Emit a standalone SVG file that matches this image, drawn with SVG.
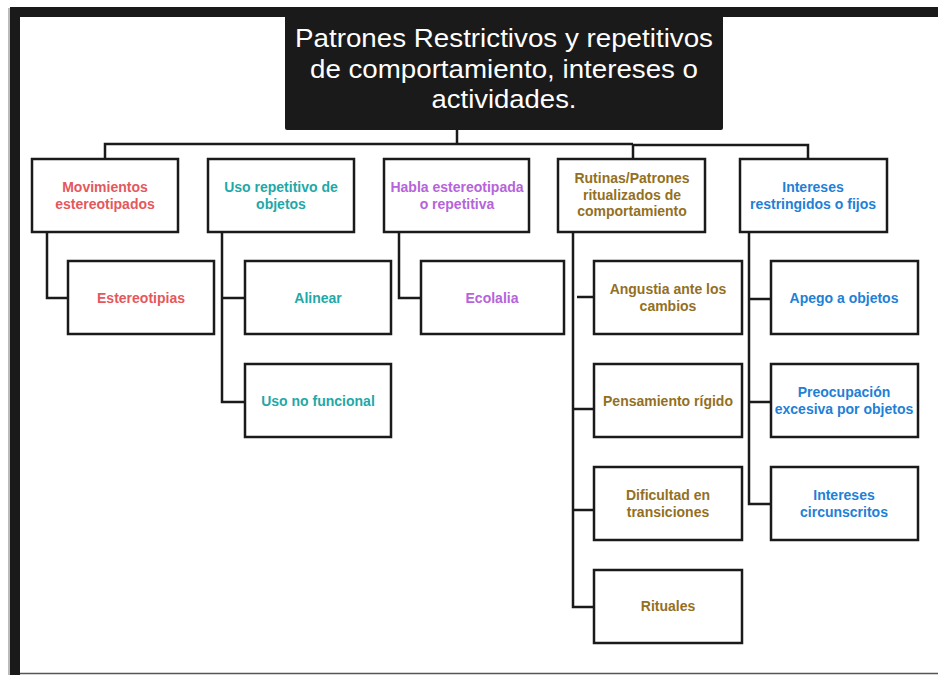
<svg xmlns="http://www.w3.org/2000/svg" width="938" height="675" viewBox="0 0 938 675">
  <style>
    .box { fill: #ffffff; stroke: #1a1a1a; stroke-width: 2.5; }
    .wire { fill: none; stroke: #1a1a1a; stroke-width: 2.5; }
    .lbl { font-family: "Liberation Sans", Arial, sans-serif; font-size: 14px; font-weight: bold; text-anchor: middle; }
    .red { fill: #e4585c; }
    .teal { fill: #1fa8a8; }
    .purple { fill: #b564da; }
    .gold { fill: #93701f; }
    .blue { fill: #1e80d6; }
    .title { font-family: "Liberation Sans", Arial, sans-serif; font-size: 26px; fill: #ffffff; text-anchor: middle; }
  </style>

  <!-- page background and frame -->
  <rect x="0" y="0" width="938" height="675" fill="#ffffff"/>
  <rect x="10" y="7" width="928" height="10" fill="#1a1a1a"/>
  <rect x="10" y="7" width="10" height="668" fill="#1a1a1a"/>
  <line x1="9" y1="8" x2="9" y2="675" stroke="#777" stroke-width="1"/>
  <line x1="20" y1="673.5" x2="938" y2="673.5" stroke="#555" stroke-width="1.5"/>

  <!-- root node -->
  <g id="root">
    <rect x="285" y="7" width="438" height="123" rx="2" fill="#1a1a1a"/>
    <text class="title" x="504" y="47" textLength="418" lengthAdjust="spacingAndGlyphs">Patrones Restrictivos y repetitivos</text>
    <text class="title" x="504" y="78" textLength="388" lengthAdjust="spacingAndGlyphs">de comportamiento, intereses o</text>
    <text class="title" x="504" y="108" textLength="145" lengthAdjust="spacingAndGlyphs">actividades.</text>
  </g>

  <!-- connectors -->
  <g id="connectors">
    <path class="wire" d="M457 130 V144"/>
    <path class="wire" stroke-width="1.8" d="M105 159 V144 H633"/>
    <path class="wire" d="M633 159 V145 H808 V159"/>
    <!-- Movimientos -->
    <path class="wire" d="M47 232 V298 H68"/>
    <!-- Uso repetitivo -->
    <path class="wire" d="M222 232 V402 H245 M222 298 H245"/>
    <!-- Habla -->
    <path class="wire" d="M399 232 V298 H421"/>
    <!-- Rutinas -->
    <path class="wire" d="M573 232 V607 H594 M577 297 H594 M573 409 H594 M573 510 H594"/>
    <!-- Intereses -->
    <path class="wire" d="M749 232 V504 H771 M749 299 H771 M749 402 H771"/>
  </g>

  <!-- first level -->
  <g id="movimientos">
    <rect class="box" x="32" y="159" width="146" height="73"/>
    <text class="lbl red" x="105" y="192">Movimientos</text>
    <text class="lbl red" x="105" y="209">estereotipados</text>
  </g>
  <g id="uso-repetitivo">
    <rect class="box" x="208" y="159" width="146" height="73"/>
    <text class="lbl teal" x="281" y="192">Uso repetitivo de</text>
    <text class="lbl teal" x="281" y="209">objetos</text>
  </g>
  <g id="habla">
    <rect class="box" x="384" y="159" width="145" height="73"/>
    <text class="lbl purple" x="457" y="192">Habla estereotipada</text>
    <text class="lbl purple" x="457" y="209">o repetitiva</text>
  </g>
  <g id="rutinas">
    <rect class="box" x="558" y="159" width="147" height="73"/>
    <text class="lbl gold" x="632" y="183">Rutinas/Patrones</text>
    <text class="lbl gold" x="632" y="200">ritualizados de</text>
    <text class="lbl gold" x="632" y="216">comportamiento</text>
  </g>
  <g id="intereses">
    <rect class="box" x="740" y="159" width="147" height="73"/>
    <text class="lbl blue" x="813" y="192">Intereses</text>
    <text class="lbl blue" x="813" y="209">restringidos o fijos</text>
  </g>

  <!-- second level -->
  <g id="estereotipias">
    <rect class="box" x="68" y="261" width="146" height="73"/>
    <text class="lbl red" x="141" y="303">Estereotipias</text>
  </g>
  <g id="alinear">
    <rect class="box" x="245" y="261" width="146" height="73"/>
    <text class="lbl teal" x="318" y="303">Alinear</text>
  </g>
  <g id="uso-no-funcional">
    <rect class="box" x="245" y="364" width="146" height="73"/>
    <text class="lbl teal" x="318" y="406">Uso no funcional</text>
  </g>
  <g id="ecolalia">
    <rect class="box" x="421" y="261" width="143" height="73"/>
    <text class="lbl purple" x="492" y="303">Ecolalia</text>
  </g>
  <g id="angustia">
    <rect class="box" x="594" y="261" width="148" height="73"/>
    <text class="lbl gold" x="668" y="294">Angustia ante los</text>
    <text class="lbl gold" x="668" y="311">cambios</text>
  </g>
  <g id="pensamiento">
    <rect class="box" x="594" y="364" width="148" height="73"/>
    <text class="lbl gold" x="668" y="406">Pensamiento rígido</text>
  </g>
  <g id="dificultad">
    <rect class="box" x="594" y="467" width="148" height="73"/>
    <text class="lbl gold" x="668" y="500">Dificultad en</text>
    <text class="lbl gold" x="668" y="517">transiciones</text>
  </g>
  <g id="rituales">
    <rect class="box" x="594" y="570" width="148" height="73"/>
    <text class="lbl gold" x="668" y="611">Rituales</text>
  </g>
  <g id="apego">
    <rect class="box" x="771" y="261" width="147" height="73"/>
    <text class="lbl blue" x="844" y="303">Apego a objetos</text>
  </g>
  <g id="preocupacion">
    <rect class="box" x="771" y="364" width="147" height="73"/>
    <text class="lbl blue" x="844" y="397">Preocupación</text>
    <text class="lbl blue" x="844" y="414">excesiva por objetos</text>
  </g>
  <g id="circunscritos">
    <rect class="box" x="771" y="467" width="147" height="73"/>
    <text class="lbl blue" x="844" y="500">Intereses</text>
    <text class="lbl blue" x="844" y="517">circunscritos</text>
  </g>
</svg>
